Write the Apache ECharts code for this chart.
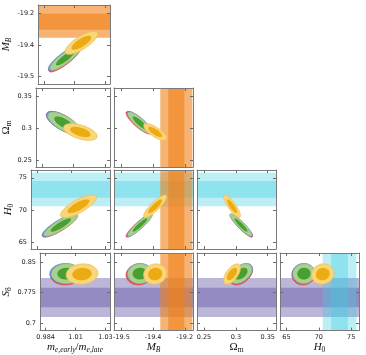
<!DOCTYPE html>
<html>
<head>
<meta charset="utf-8">
<script src="https://cdn.jsdelivr.net/npm/echarts@6/dist/echarts.min.js"></script>
<style>
  html, body { margin: 0; padding: 0; background: #fff; }
  #chart { width: 366px; height: 355px; }
</style>
</head>
<body>
<div id="chart"></div>
<script>
// parameter order: m_e ratio, M_B, Omega_m, H0, S8
const axisMin = [0.9797, -19.535, 0.239, 64.0, 0.6815]
const axisMax = [1.0335, -19.161, 0.363, 76.2, 0.873]
const tickValues = [
  [0.984, 1.007, 1.03],
  [-19.5, -19.35, -19.2],
  [0.25, 0.3, 0.35],
  [65, 70, 75],
  [0.7, 0.775, 0.85]
]
const tickLabels = [
  ['0.984', '1.01', '1.03'],
  ['-19.5', '-19.4', '-19.2'],
  ['0.25', '0.3', '0.35'],
  ['65', '70', '75'],
  ['0.7', '0.775', '0.85']
]

// chain summaries (mean / std per parameter)
const redMean = [0.9995, -19.418, 0.3085, 67.6, 0.8195]
const redSd = [0.0048, 0.024, 0.0071, 0.71, 0.0101]
const blueMean = [0.9990, -19.413, 0.3088, 67.65, 0.8228]
const blueSd = [0.0047, 0.0236, 0.0070, 0.70, 0.0098]
const greenMean = [1.000, -19.412, 0.308, 67.7, 0.822]
const greenSd = [0.0046, 0.023, 0.0068, 0.68, 0.0096]
const yellowMean = [1.012, -19.340, 0.294, 70.6, 0.821]
const yellowSd = [0.0049, 0.022, 0.0053, 0.70, 0.0101]

// correlations, one per pair [x param, y param]
const pairs = [[0, 1], [0, 2], [1, 2], [0, 3], [1, 3], [2, 3], [0, 4], [1, 4], [2, 4], [3, 4]]
const greenRho = [0.86, -0.68, -0.86, 0.86, 0.92, -0.92, 0.03, 0.03, 0.45, 0.03]
const yellowRho = [0.76, -0.52, -0.76, 0.76, 0.86, -0.84, 0.08, 0.08, 0.6, 0.08]

// external priors: [mean, sigma]
const mbPrior = [-19.24, 0.038]
const h0Prior = [73.2, 1.3]
const s8Prior = [0.763, 0.024]

const level1 = 1.52
const level2 = 2.49

const chains = [
  { mean: redMean, sd: redSd, rho: greenRho, light: '#e25a62', dark: '#c63a44', stroke: '#d8434d' },
  { mean: blueMean, sd: blueSd, rho: greenRho, light: '#6e90d8', dark: '#3d66c2', stroke: '#5a7fd0' },
  { mean: greenMean, sd: greenSd, rho: greenRho, light: '#a9d18e', dark: '#49a032', stroke: '#9cc980' },
  { mean: yellowMean, sd: yellowSd, rho: yellowRho, light: '#f8d67a', dark: '#ecab12', stroke: '#f2bd4c' }
]

const priorBands = [
  { param: 4, prior: s8Prior, color: 'rgba(95,80,165,0.42)' },
  { param: 3, prior: h0Prior, color: 'rgba(60,205,225,0.35)' },
  { param: 1, prior: mbPrior, color: 'rgba(240,128,24,0.6)' }
]

const colLeft = [31, 114, 197, 280]
const rowTop = [5, 88, 170, 253]
const cell = 79

const serif = 'Liberation Serif'
const mathRich = {
  i: { fontFamily: serif, fontStyle: 'italic', fontSize: 11, lineHeight: 14, color: '#111' },
  r: { fontFamily: serif, fontSize: 11, lineHeight: 14, color: '#111' },
  s: { fontFamily: serif, fontStyle: 'italic', fontSize: 7.5, lineHeight: 8, verticalAlign: 'bottom', color: '#111' },
  u: { fontFamily: serif, fontSize: 7.5, lineHeight: 8, verticalAlign: 'bottom', color: '#111' }
}
const paramNames = [
  '{i|m}{s|e,early}{r|/}{i|m}{s|e,late}',
  '{i|M}{s|B}',
  '{r|Ω}{u|m}',
  '{i|H}{u|0}',
  '{i|S}{u|8}'
]
const yNameGap = [0, 16, 14, 11, 16]

function labelFor(p) {
  return function (v) {
    const vals = tickValues[p]
    let best = 0
    for (let k = 1; k < vals.length; k++) {
      if (Math.abs(vals[k] - v) < Math.abs(vals[best] - v)) best = k
    }
    return tickLabels[p][best]
  }
}

function ellipsePoints(api, mx, my, sx, sy, rho, k) {
  const pts = []
  const c = Math.sqrt(1 - rho * rho)
  for (let i = 0; i < 90; i++) {
    const t = (i / 90) * Math.PI * 2
    const u = Math.cos(t)
    const v = Math.sin(t)
    pts.push(api.coord([mx + k * sx * u, my + k * sy * (rho * u + c * v)]))
  }
  return pts
}

const grid = []
const xAxis = []
const yAxis = []
const series = []

const axisLineStyle = { color: '#7a7a7a', width: 1 }
const tickStyle = { color: '#6a6a6a', width: 1 }

let idx = 0
for (let r = 0; r < 4; r++) {
  for (let c = 0; c <= r; c++) {
    const xp = c
    const yp = r + 1
    const bottomRow = r === 3
    const leftCol = c === 0
    grid.push({ left: colLeft[c], top: rowTop[r], width: cell, height: cell })
    const xBase = {
      gridIndex: idx, type: 'value', min: axisMin[xp], max: axisMax[xp], z: 5,
      splitLine: { show: false },
      axisLine: { show: true, onZero: false, lineStyle: axisLineStyle },
      axisTick: { show: true, inside: true, length: 3, lineStyle: tickStyle, customValues: tickValues[xp] }
    }
    const yBase = {
      gridIndex: idx, type: 'value', min: axisMin[yp], max: axisMax[yp], z: 5,
      splitLine: { show: false },
      axisLine: { show: true, onZero: false, lineStyle: axisLineStyle },
      axisTick: { show: true, inside: true, length: 3, lineStyle: tickStyle, customValues: tickValues[yp] }
    }
    xAxis.push(Object.assign({}, xBase, {
      position: 'bottom',
      axisLabel: {
        show: bottomRow, customValues: tickValues[xp], formatter: labelFor(xp),
        fontFamily: 'DejaVu Sans', fontSize: 6.5, color: '#222', margin: 3
      },
      name: bottomRow ? paramNames[xp] : '',
      nameLocation: 'middle', nameGap: 5,
      nameTextStyle: { rich: mathRich }
    }))
    xAxis.push(Object.assign({}, xBase, { position: 'top', axisLabel: { show: false } }))
    yAxis.push(Object.assign({}, yBase, {
      position: 'left',
      axisLabel: {
        show: leftCol, customValues: tickValues[yp], formatter: labelFor(yp),
        fontFamily: 'DejaVu Sans', fontSize: 6.5, color: '#222', margin: 4
      },
      name: leftCol ? paramNames[yp] : '',
      nameLocation: 'middle', nameGap: yNameGap[yp], nameRotate: 90,
      nameTextStyle: { rich: mathRich }
    }))
    yAxis.push(Object.assign({}, yBase, { position: 'right', axisLabel: { show: false } }))

    const pairIdx = pairs.findIndex(p => p[0] === xp && p[1] === yp)
    series.push({
      type: 'custom',
      xAxisIndex: idx * 2,
      yAxisIndex: idx * 2,
      clip: true,
      silent: true,
      data: [[axisMin[xp], axisMin[yp]]],
      renderItem: function (params, api) {
        const children = []
        // prior bands (2 sigma then 1 sigma, layered)
        priorBands.forEach(b => {
          ;[2, 1].forEach(n => {
            const lo = b.prior[0] - n * b.prior[1]
            const hi = b.prior[0] + n * b.prior[1]
            let p0, p1
            if (b.param === yp) {
              p0 = api.coord([axisMin[xp], hi])
              p1 = api.coord([axisMax[xp], lo])
            } else if (b.param === xp) {
              p0 = api.coord([lo, axisMax[yp]])
              p1 = api.coord([hi, axisMin[yp]])
            } else {
              return
            }
            children.push({
              type: 'rect',
              shape: { x: p0[0], y: p0[1], width: p1[0] - p0[0], height: p1[1] - p0[1] },
              style: { fill: b.color }
            })
          })
        })
        // chain contours
        chains.forEach(ch => {
          const mx = ch.mean[xp]
          const my = ch.mean[yp]
          const sx = ch.sd[xp]
          const sy = ch.sd[yp]
          const rho = ch.rho[pairIdx]
          children.push({
            type: 'polygon',
            shape: { points: ellipsePoints(api, mx, my, sx, sy, rho, level2), smooth: 0 },
            style: { fill: ch.light, stroke: ch.stroke, lineWidth: 0.8 }
          })
          children.push({
            type: 'polygon',
            shape: { points: ellipsePoints(api, mx, my, sx, sy, rho, level1), smooth: 0 },
            style: { fill: ch.dark }
          })
        })
        return { type: 'group', children: children }
      }
    })
    idx++
  }
}

const chart = echarts.init(document.getElementById('chart'))
chart.setOption({
  animation: false,
  backgroundColor: '#fff',
  grid: grid,
  xAxis: xAxis,
  yAxis: yAxis,
  series: series
})
</script>
</body>
</html>
